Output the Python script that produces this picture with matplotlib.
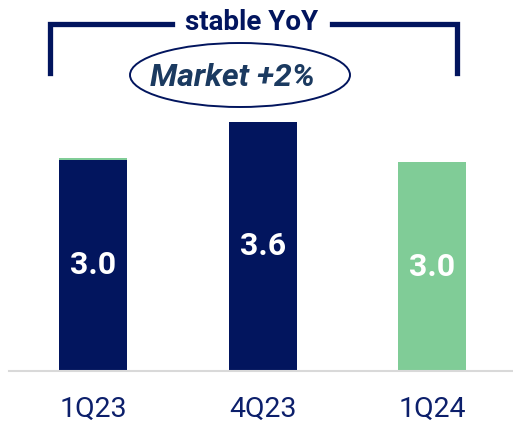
import matplotlib
matplotlib.use("Agg")
import matplotlib.pyplot as plt
from matplotlib.patches import Ellipse
from matplotlib.lines import Line2D

plt.rcParams['font.family'] = ['Roboto', 'DejaVu Sans']

categories = ["1Q23", "4Q23", "1Q24"]
dark_values = [2.97, 3.51, 0.0]
green_values = [0.03, 0.0, 2.94]
value_labels = ["3.0", "3.6", "3.0"]
bracket_text = "stable YoY"
bubble_text = "Market +2%"

NAVY = "#02155e"
GREEN = "#80cc97"
W, H = 513, 425

fig = plt.figure(figsize=(W / 100, H / 100), dpi=100)
ax = fig.add_axes([9 / W, 54 / H, 504 / W, 371 / H])

x = list(range(len(categories)))
ax.bar(x, dark_values, width=0.4, color=NAVY, zorder=2)
ax.bar(x, green_values, width=0.4, bottom=dark_values, color=GREEN, zorder=2)

for i, lab in enumerate(value_labels):
    total = dark_values[i] + green_values[i]
    ax.text(i, total / 2, lab, ha='center', va='center', color='white',
            fontsize=23, fontweight='bold', zorder=3)

ax.set_xlim(-0.497, 2.477)
ax.set_ylim(0, 371 / 71)
ax.set_xticks(x)
ax.set_xticklabels(categories, fontsize=20.5, color="#0c1f6b")
ax.tick_params(axis='x', length=0, pad=18)
ax.set_yticks([])
for s in ['top', 'right', 'left']:
    ax.spines[s].set_visible(False)
ax.spines['bottom'].set_color('#d9d9d9')
ax.spines['bottom'].set_linewidth(1.5)
ax.patch.set_alpha(0)


def fx(px):
    return px / W


def fy(py):
    return 1 - py / H


lw = 3.8
fig.add_artist(Line2D([fx(50), fx(50), fx(172)], [fy(73), fy(24), fy(24)],
                      color=NAVY, lw=lw, solid_joinstyle='miter',
                      transform=fig.transFigure))
fig.add_artist(Line2D([fx(332), fx(457), fx(457)], [fy(24), fy(24), fy(73)],
                      color=NAVY, lw=lw, solid_joinstyle='miter',
                      transform=fig.transFigure))
fig.text(fx(252), fy(23), bracket_text, ha='center', va='center',
         fontsize=20, fontweight='bold', color=NAVY)

fig.add_artist(Ellipse((fx(240), fy(75)), 220 / W, 64 / H, fill=False,
                       edgecolor=NAVY, lw=1.4, transform=fig.transFigure))
fig.text(fx(232), fy(77), bubble_text, ha='center', va='center',
         fontsize=23, fontweight='bold', fontstyle='italic', color="#1b3a60")

fig.savefig("out.png", dpi=100)
